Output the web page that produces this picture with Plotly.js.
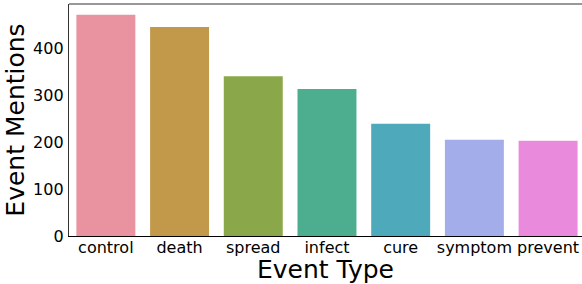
<!DOCTYPE html>
<html>
<head>
<meta charset="utf-8">
<script src="https://cdn.plot.ly/plotly-3.0.1.min.js"></script>
<style>html,body{margin:0;padding:0;overflow:hidden;background:#fff}</style>
</head>
<body>
<div id="chart" style="width:582px;height:284px"></div>
<script>
const categories = ["control", "death", "spread", "infect", "cure", "symptom", "prevent"];
const mentions = [471, 445, 340, 313, 239, 205, 203];
const barColors = ["#e8939f", "#c2994b", "#8aa84a", "#4dae8f", "#4eaabb", "#a2adea", "#e98add"];
const yTicks = [0, 100, 200, 300, 400];

const font = "DejaVu Sans, sans-serif";
Plotly.newPlot("chart", [{
  type: "bar",
  x: categories,
  y: mentions,
  marker: {color: barColors, line: {width: 0}},
  hoverinfo: "skip"
}], {
  width: 582, height: 284,
  margin: {l: 69, r: 0, t: 4, b: 48, pad: 0},
  paper_bgcolor: "#fff", plot_bgcolor: "#fff",
  bargap: 0.2,
  showlegend: false,
  font: {family: font, color: "#000"},
  xaxis: {
    type: "category",
    range: [-0.5, 6.46],
    showline: true, linecolor: "#000", linewidth: 1.2,
    showgrid: false, zeroline: false,
    ticks: "", ticklen: 0,
    ticklabelstandoff: -3,
    tickfont: {size: 16, family: font, color: "#000"},
    title: {text: "Event Type", font: {size: 25, family: font, color: "#000"}, standoff: 0},
    automargin: false
  },
  yaxis: {
    range: [0, 494],
    tickvals: yTicks,
    showline: true, linecolor: "#333", linewidth: 1.2,
    showgrid: false, zeroline: false,
    ticks: "", ticklen: 0,
    ticklabelstandoff: 1,
    tickfont: {size: 16, family: font, color: "#000"},
    title: {text: "Event Mentions", font: {size: 25, family: font, color: "#000"}, standoff: 1},
    automargin: false
  },
  shapes: [{
    type: "line", xref: "paper", yref: "paper", x0: 0, x1: 1, y0: 1, y1: 1,
    line: {color: "#333", width: 1.2}
  }]
}, {displayModeBar: false, staticPlot: true});
</script>
</body>
</html>
